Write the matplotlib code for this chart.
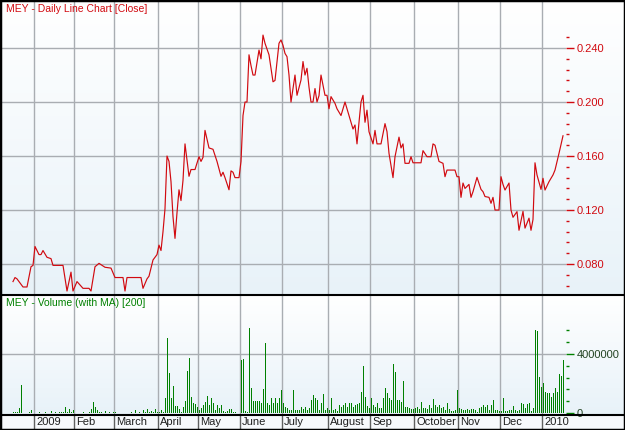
import numpy as np
import matplotlib
matplotlib.use("Agg")
import matplotlib.pyplot as plt
from matplotlib.lines import Line2D
from matplotlib.patches import Rectangle

plt.rcParams['font.family'] = ['Liberation Sans', 'DejaVu Sans']

# close price, given at the turning points of the line (trading day index -> price)
price_days = [0, 1, 2, 5, 7, 9, 10, 11, 13, 14, 15, 17, 19, 20, 25, 27, 29, 30, 32, 35,
              38, 39, 41, 43, 46, 49, 51, 55, 56, 57, 64, 65, 67, 68, 70, 72, 73, 74, 75, 76,
              77, 78, 79, 80, 81, 82, 83, 84, 85, 86, 88, 89, 91, 93, 94, 95, 96, 98, 100, 102,
              104, 105, 106, 108, 109, 110, 111, 113, 114, 115, 116, 117, 118, 119, 120, 121, 123, 124, 125, 126,
              128, 130, 131, 133, 134, 135, 136, 137, 138, 139, 141, 142, 144, 145, 146, 147, 148, 149, 150, 151,
              152, 153, 154, 156, 157, 158, 159, 161, 162, 164, 166, 168, 170, 171, 172, 173, 174, 175, 176, 177,
              178, 180, 181, 182, 184, 186, 187, 188, 190, 191, 193, 194, 195, 196, 198, 199, 200, 204, 205, 207,
              209, 210, 211, 213, 215, 216, 217, 221, 222, 223, 224, 225, 226, 228, 229, 230, 232, 234, 235, 236,
              238, 239, 240, 241, 243, 244, 245, 246, 248, 249, 250, 252, 253, 255, 256, 258, 259, 260, 261, 262,
              264, 265, 266, 268, 270, 271, 273, 275]
price_close = [0.067, 0.070, 0.069, 0.063, 0.063, 0.078, 0.079, 0.093, 0.087, 0.087, 0.090, 0.085, 0.084, 0.079, 0.079, 0.060, 0.074, 0.060, 0.067, 0.062,
               0.062, 0.060, 0.078, 0.0805, 0.0776, 0.077, 0.070, 0.070, 0.060, 0.070, 0.070, 0.062, 0.069, 0.071, 0.083, 0.087, 0.094, 0.090, 0.104, 0.121,
               0.160, 0.156, 0.141, 0.115, 0.099, 0.118, 0.135, 0.127, 0.142, 0.169, 0.145, 0.150, 0.150, 0.1595, 0.156, 0.159, 0.179, 0.166, 0.165, 0.156,
               0.145, 0.148, 0.144, 0.135, 0.149, 0.148, 0.144, 0.144, 0.156, 0.190, 0.200, 0.200, 0.235, 0.227, 0.220, 0.220, 0.2385, 0.232, 0.2496, 0.2435,
               0.235, 0.215, 0.216, 0.2435, 0.246, 0.242, 0.236, 0.2336, 0.220, 0.200, 0.220, 0.205, 0.2163, 0.230, 0.220, 0.225, 0.211, 0.200, 0.200, 0.210,
               0.200, 0.2047, 0.220, 0.205, 0.205, 0.195, 0.204, 0.199, 0.195, 0.190, 0.200, 0.190, 0.180, 0.183, 0.169, 0.185, 0.200, 0.205, 0.185, 0.194,
               0.178, 0.169, 0.179, 0.169, 0.169, 0.184, 0.178, 0.162, 0.144, 0.1595, 0.174, 0.166, 0.169, 0.1546, 0.1546, 0.1595, 0.155, 0.155, 0.164, 0.1595,
               0.1595, 0.169, 0.168, 0.156, 0.1546, 0.1447, 0.1496, 0.1496, 0.1447, 0.1447, 0.1294, 0.140, 0.136, 0.139, 0.1294, 0.1336, 0.1442, 0.1353, 0.1336, 0.130,
               0.1294, 0.125, 0.1294, 0.120, 0.120, 0.1447, 0.139, 0.1348, 0.140, 0.120, 0.1146, 0.1188, 0.105, 0.119, 0.1066, 0.114, 0.105, 0.113, 0.155, 0.146,
               0.1353, 0.1435, 0.1348, 0.141, 0.146, 0.1496, 0.162, 0.175]

# daily volume in millions of shares, one value per trading day
volume_m = [0.05, 0.05, 0.1, 0.32, 1.9, 0.0, 0.0, 0.02, 0.05, 0.2,
            0.0, 0.03, 0.0, 0.05, 0.0, 0.0, 0.05, 0.0, 0.02, 0.15,
            0.0, 0.05, 0.0, 0.08, 0.1, 0.05, 0.43, 0.1, 0.25, 0.05,
            0.2, 0.0, 0.0, 0.02, 0.0, 0.05, 0.0, 0.0, 0.05, 0.3,
            0.77, 0.43, 0.2, 0.05, 0.1, 0.0, 0.15, 0.02, 0.1, 0.0,
            0.05, 0.1, 0.0, 0.0, 0.02, 0.0, 0.0, 0.0, 0.02, 0.1,
            0.0, 0.2, 0.02, 0.1, 0.0, 0.2, 0.05, 0.27, 0.05, 0.15,
            0.05, 0.25, 0.05, 0.1, 0.2, 0.1, 1.0, 5.06, 2.69, 1.0,
            1.83, 0.47, 0.47, 0.25, 0.1, 0.38, 0.84, 2.85, 3.71, 1.06,
            0.66, 0.6, 0.43, 0.2, 0.32, 0.54, 0.77, 1.15, 0.54, 1.0,
            0.66, 0.2, 0.54, 0.32, 0.54, 0.16, 0.1, 0.16, 0.27, 0.25,
            0.1, 0.1, 0.0, 0.0, 3.6, 3.66, 0.15, 0.1, 5.74, 1.67,
            0.8, 0.8, 0.8, 0.8, 0.66, 1.63, 4.77, 0.66, 0.54, 1.0,
            0.66, 1.04, 0.66, 1.04, 1.56, 0.66, 0.43, 0.32, 0.2, 0.2,
            1.56, 0.2, 0.2, 0.2, 0.43, 0.25, 0.43, 0.2, 0.32, 0.88,
            1.22, 1.0, 0.88, 0.2, 0.66, 1.29, 0.2, 0.32, 0.2, 1.0,
            0.2, 0.25, 0.14, 0.54, 0.43, 0.54, 0.66, 0.43, 0.66, 0.66,
            0.43, 0.54, 0.6, 0.66, 1.45, 3.19, 1.1, 0.47, 0.32, 1.0,
            0.54, 0.43, 0.66, 0.32, 0.32, 1.0, 1.67, 1.33, 1.0, 0.88,
            3.32, 2.8, 0.88, 0.88, 0.77, 2.19, 0.43, 0.38, 0.32, 0.25,
            0.27, 0.32, 0.38, 0.27, 0.77, 0.32, 0.32, 0.25, 0.54, 0.32,
            0.93, 0.54, 0.38, 0.54, 0.32, 0.43, 0.2, 0.66, 0.25, 0.16,
            0.16, 0.2, 1.56, 0.32, 0.25, 0.2, 0.2, 0.25, 0.2, 0.29,
            0.25, 0.2, 0.09, 0.32, 0.43, 0.54, 0.38, 0.54, 0.2, 0.54,
            0.88, 0.2, 0.2, 0.16, 0.16, 1.0, 0.16, 0.16, 0.2, 0.2,
            0.47, 0.2, 0.16, 0.2, 0.66, 0.6, 0.32, 0.6, 0.7, 0.16,
            0.32, 5.63, 5.58, 2.42, 1.79, 2.0, 1.45, 1.33, 1.33, 1.1,
            1.38, 1.67, 1.45, 2.64, 2.5, 3.59]

# first trading day of each month and its label
month_first_day = [11, 31, 51, 73, 93, 114, 135, 158, 179, 201, 223, 244, 265]
month_labels = ["2009", "Feb", "March", "April", "May", "June", "July",
                "August", "Sep", "October", "Nov", "Dec", "2010"]

price_ticks = [0.080, 0.120, 0.160, 0.200, 0.240]
volume_ticks = [0, 4000000]

RED = "#d10a10"
GREEN = "#008000"
GRID = "#a9adb2"
W, H = 625, 430


def fx(px):
    return px / W


def fy(py):
    return 1 - py / H


fig = plt.figure(figsize=(W / 100, H / 100), dpi=100)

# background with the light gradient of each panel
bg = fig.add_axes([0, 0, 1, 1], zorder=-5)
grad = np.ones((H, 1, 3))
top_c = np.array([1.0, 1.0, 1.0])
bot_c = np.array([0.91, 0.95, 0.975])
for y0, y1 in [(0, 295), (295, 414)]:
    t = np.linspace(0, 1, y1 - y0)[:, None]
    grad[y0:y1, 0, :] = top_c + (bot_c - top_c) * t
grad[414:, 0, :] = np.array([0.97, 0.98, 0.99])
bg.imshow(grad, aspect="auto", extent=[0, 1, 0, 1], interpolation="bilinear")
bg.set_axis_off()

xlim = (-5.5, 276.5)

# price panel
ax = fig.add_axes([fx(2), fy(294), fx(564), 292 / H])
ax.patch.set_alpha(0)
ax.plot(price_days, price_close, color=RED, lw=0.85)
ax.set_xlim(*xlim)
ax.set_ylim(0.0578, 0.2741)
ax.yaxis.tick_right()
ax.set_yticks(price_ticks)
ax.set_yticklabels([f"{v:.3f}" for v in price_ticks])
ax.set_yticks(np.arange(0.064, 0.249, 0.008), minor=True)
ax.tick_params(axis="y", which="major", colors=RED, labelcolor=RED, length=5.5, width=1, labelsize=8, pad=2)
ax.tick_params(axis="y", which="minor", colors=RED, length=2.5, width=1)
ax.set_xticks([])
for s in ax.spines.values():
    s.set_visible(False)
for v in price_ticks:
    ax.axhline(v, color=GRID, lw=1, zorder=0)
for d in month_first_day:
    ax.axvline(d - 0.5, color=GRID, lw=1, zorder=0)

# volume panel
axv = fig.add_axes([fx(2), fy(414), fx(564), 118 / H])
axv.patch.set_alpha(0)
vol = np.array(volume_m) * 1e6
axv.bar(np.arange(len(vol)), vol, width=0.5, color=GREEN, linewidth=0, antialiased=False)
axv.set_xlim(*xlim)
axv.set_ylim(-68000, 7930000)
axv.yaxis.tick_right()
axv.set_yticks(volume_ticks)
axv.set_yticklabels([str(v) for v in volume_ticks])
axv.set_yticks(np.arange(0, 5600001, 800000), minor=True)
axv.tick_params(axis="y", which="major", colors=GREEN, labelcolor="#224422", length=5.5, width=1, labelsize=8, pad=2)
axv.tick_params(axis="y", which="minor", colors=GREEN, length=2.5, width=1)
axv.set_xticks([])
for s in axv.spines.values():
    s.set_visible(False)
axv.axhline(4000000, color=GRID, lw=1, zorder=0)
for d in month_first_day:
    axv.axvline(d - 0.5, color=GRID, lw=1, zorder=0)

# date strip
axd = fig.add_axes([fx(2), 0, fx(564), fy(414)])
axd.patch.set_alpha(0)
axd.set_xlim(*xlim)
axd.set_ylim(0, 1)
axd.set_axis_off()
for d, lab in zip(month_first_day, month_labels):
    axd.axvline(d - 0.5, color="#606060", lw=1)
    axd.text(d + 0.6, 0.5, lab, fontsize=8, color="#202020", va="center", ha="left")

# panel titles
fig.text(fx(6), fy(4), "MEY - Daily Line Chart [Close]", color=RED, fontsize=7.5, va="top", ha="left")
fig.text(fx(6), fy(298), "MEY - Volume (with MA) [200]", color=GREEN, fontsize=7.5, va="top", ha="left")

# separators and border
fig.add_artist(Line2D([0, 1], [fy(295), fy(295)], color="black", lw=1.5))
fig.add_artist(Line2D([0, 1], [fy(414.5), fy(414.5)], color="black", lw=1.5))
fig.add_artist(Rectangle((0, 0), 1, 1, transform=fig.transFigure, fill=False, edgecolor="black", lw=2.5))

fig.savefig("out.png", dpi=100)
